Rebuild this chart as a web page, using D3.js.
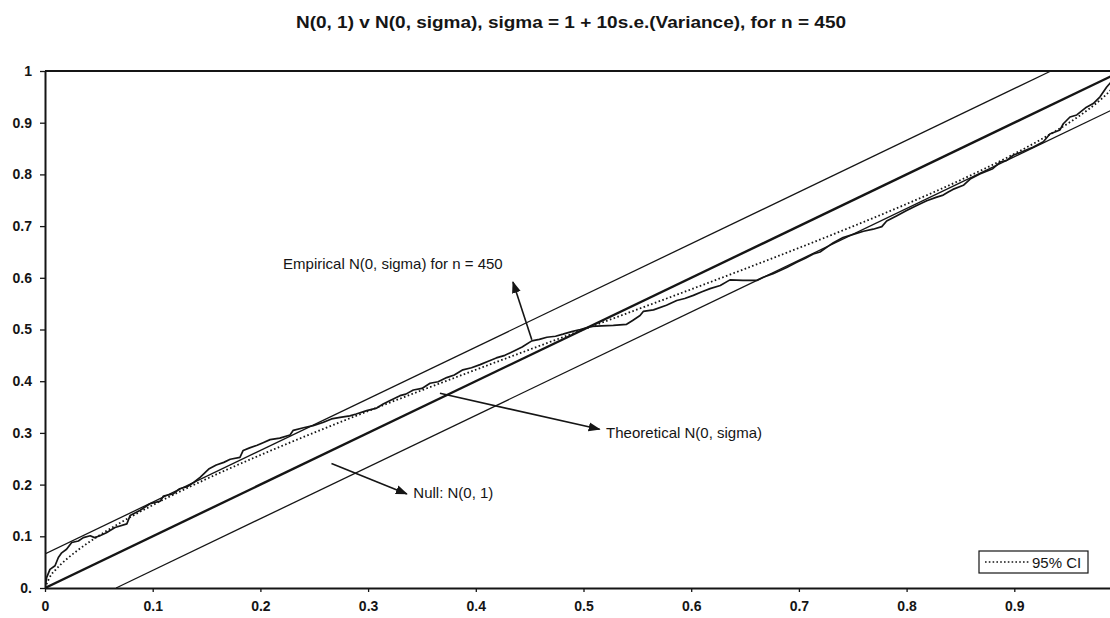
<!DOCTYPE html>
<html>
<head>
<meta charset="utf-8">
<script src="https://cdn.jsdelivr.net/npm/d3@7"></script>
<style>
body { margin: 0; background: #fff; }
text { font-family: "Liberation Sans", Arial, sans-serif; fill: #151515; }
</style>
</head>
<body>
<div id="chart"></div>
<script>
var width = 1110;
var height = 618;

var titleText = "N(0, 1) v N(0, sigma), sigma = 1 + 10s.e.(Variance), for n = 450";

var xTickValues = [0, 0.1, 0.2, 0.3, 0.4, 0.5, 0.6, 0.7, 0.8, 0.9];
var xTickLabels = ["0", "0.1", "0.2", "0.3", "0.4", "0.5", "0.6", "0.7", "0.8", "0.9"];
var yTickValues = [0, 0.1, 0.2, 0.3, 0.4, 0.5, 0.6, 0.7, 0.8, 0.9, 1];
var yTickLabels = ["0.", "0.1", "0.2", "0.3", "0.4", "0.5", "0.6", "0.7", "0.8", "0.9", "1"];

// null N(0,1) and the 95% band round it
var nullX = [0, 1];
var nullY = [0, 1];
var upperX = [0, 0.934];
var upperY = [0.066, 1];
var lowerX = [0.066, 1];
var lowerY = [0, 0.934];

// theoretical N(0, sigma)
var theoX = [0, 0.005, 0.01, 0.02, 0.03, 0.05, 0.075, 0.1, 0.15, 0.2, 0.25, 0.3, 0.35, 0.4, 0.45, 0.5,
  0.55, 0.6, 0.65, 0.7, 0.75, 0.8, 0.85, 0.9, 0.925, 0.95, 0.97, 0.98, 0.99, 0.995, 1];
var theoY = [0, 0.023, 0.0357, 0.0557, 0.0724, 0.1012, 0.1322, 0.1603, 0.211, 0.2572, 0.3006, 0.3422, 0.3826, 0.4222, 0.4612, 0.5,
  0.5388, 0.5778, 0.6174, 0.6578, 0.6994, 0.7428, 0.789, 0.8397, 0.8678, 0.8988, 0.9276, 0.9443, 0.9643, 0.977, 1];

// empirical n = 450
var empX = [0, 0.0015, 0.0046, 0.0093, 0.0124, 0.0155, 0.02, 0.0248, 0.031, 0.0356, 0.042, 0.046, 0.051, 0.057, 0.065,
  0.076, 0.079, 0.088, 0.0975, 0.107, 0.11, 0.119, 0.125, 0.132, 0.138, 0.144, 0.152, 0.159, 0.166, 0.172,
  0.181, 0.184, 0.19, 0.197, 0.203, 0.209, 0.218, 0.2275, 0.2305, 0.24, 0.249, 0.258, 0.266, 0.274, 0.283,
  0.289, 0.2987, 0.308, 0.314, 0.32, 0.3296, 0.335, 0.342, 0.35, 0.3575, 0.365, 0.373, 0.38, 0.388, 0.396,
  0.404, 0.411, 0.419, 0.427, 0.435, 0.443, 0.452, 0.459, 0.466, 0.474, 0.481, 0.489, 0.497, 0.5076, 0.517,
  0.5277, 0.54, 0.546, 0.5525, 0.5555, 0.565, 0.577, 0.5866, 0.594, 0.602, 0.61, 0.6175, 0.627, 0.636, 0.648,
  0.661, 0.667, 0.676, 0.6887, 0.698, 0.706, 0.7134, 0.7196, 0.732, 0.741, 0.7505, 0.76, 0.769, 0.777, 0.7815,
  0.791, 0.8, 0.8094, 0.8187, 0.828, 0.834, 0.8387, 0.843, 0.8527, 0.859, 0.868, 0.88, 0.887, 0.893, 0.899,
  0.905, 0.9177, 0.927, 0.933, 0.9424, 0.9455, 0.9517, 0.958, 0.967, 0.9733, 0.9796, 0.9858, 0.99];
var empY = [0, 0.02, 0.036, 0.043, 0.059, 0.068, 0.075, 0.088, 0.091, 0.0975, 0.101, 0.0975, 0.101, 0.107, 0.117,
  0.124, 0.14, 0.15, 0.163, 0.168, 0.178, 0.182, 0.192, 0.196, 0.204, 0.214, 0.23, 0.238, 0.243, 0.249,
  0.2525, 0.266, 0.271, 0.276, 0.2816, 0.287, 0.29, 0.296, 0.305, 0.31, 0.314, 0.32, 0.327, 0.33, 0.333,
  0.3366, 0.343, 0.348, 0.356, 0.362, 0.372, 0.375, 0.383, 0.386, 0.396, 0.399, 0.407, 0.412, 0.422, 0.426,
  0.432, 0.438, 0.445, 0.45, 0.458, 0.466, 0.478, 0.481, 0.485, 0.487, 0.491, 0.496, 0.5, 0.506, 0.507,
  0.508, 0.51, 0.518, 0.527, 0.535, 0.538, 0.547, 0.556, 0.56, 0.566, 0.573, 0.579, 0.585, 0.596, 0.595,
  0.595, 0.601, 0.608, 0.62, 0.63, 0.638, 0.646, 0.65, 0.668, 0.678, 0.684, 0.69, 0.694, 0.699, 0.71,
  0.72, 0.73, 0.74, 0.749, 0.756, 0.76, 0.766, 0.771, 0.779, 0.791, 0.801, 0.811, 0.824, 0.827, 0.837,
  0.842, 0.853, 0.863, 0.878, 0.886, 0.898, 0.911, 0.915, 0.93, 0.937, 0.95, 0.969, 0.979];

var svg = d3.select("#chart").append("svg").attr("width", width).attr("height", height);

var x = d3.scaleLinear().domain([0, 1]).range([45, 1122]);
var y = d3.scaleLinear().domain([0, 1]).range([588, 71]);

var ink = "#151515";

svg.append("defs").append("clipPath").attr("id", "plotclip")
  .append("rect").attr("x", 45).attr("y", 70).attr("width", width - 45).attr("height", 519);

var arrow = svg.select("defs").append("marker")
  .attr("id", "head")
  .attr("markerUnits", "userSpaceOnUse")
  .attr("viewBox", "0 -5 12 10")
  .attr("refX", 11)
  .attr("refY", 0)
  .attr("markerWidth", 12)
  .attr("markerHeight", 10)
  .attr("orient", "auto");
arrow.append("path").attr("d", "M0,-4.5L12,0L0,4.5Z").attr("fill", ink);

svg.append("text")
  .attr("x", 571)
  .attr("y", 28)
  .attr("text-anchor", "middle")
  .attr("font-size", 17)
  .attr("font-weight", "bold")
  .attr("textLength", 550)
  .attr("lengthAdjust", "spacingAndGlyphs")
  .text(titleText);

function pairs(xs, ys) {
  return xs.map(function(d, i) { return [d, ys[i]]; });
}

var line = d3.line().x(function(d) { return x(d[0]); }).y(function(d) { return y(d[1]); });
var smooth = d3.line().curve(d3.curveMonotoneX).x(function(d) { return x(d[0]); }).y(function(d) { return y(d[1]); });

var plot = svg.append("g").attr("clip-path", "url(#plotclip)");

plot.append("path").datum(pairs(upperX, upperY)).attr("d", line)
  .attr("fill", "none").attr("stroke", ink).attr("stroke-width", 1.3);
plot.append("path").datum(pairs(lowerX, lowerY)).attr("d", line)
  .attr("fill", "none").attr("stroke", ink).attr("stroke-width", 1.3);
plot.append("path").datum(pairs(nullX, nullY)).attr("d", line)
  .attr("fill", "none").attr("stroke", ink).attr("stroke-width", 2.4);
plot.append("path").datum(pairs(theoX, theoY)).attr("d", smooth)
  .attr("fill", "none").attr("stroke", ink).attr("stroke-width", 1.8).attr("stroke-dasharray", "1.6 2.4");
plot.append("path").datum(pairs(empX, empY)).attr("d", line)
  .attr("fill", "none").attr("stroke", ink).attr("stroke-width", 1.7).attr("stroke-linejoin", "round");

// axes
var yAxis = d3.axisLeft(y).tickValues(yTickValues)
  .tickFormat(function(d, i) { return yTickLabels[i]; })
  .tickSize(5).tickSizeOuter(0).tickPadding(8);
var xAxis = d3.axisBottom(x).tickValues(xTickValues)
  .tickFormat(function(d, i) { return xTickLabels[i]; })
  .tickSize(4).tickSizeOuter(0).tickPadding(9);

var gy = svg.append("g").attr("transform", "translate(45,0)").call(yAxis);
var gx = svg.append("g").attr("transform", "translate(0,588)").call(xAxis);

[gx, gy].forEach(function(g) {
  g.select(".domain").attr("stroke", ink).attr("stroke-width", 2);
  g.selectAll(".tick line").attr("stroke", ink).attr("stroke-width", 1.3);
  g.selectAll(".tick text").attr("font-size", 14).attr("font-weight", "bold")
    .attr("fill", ink).style("font-family", "'Liberation Sans', Arial, sans-serif");
});

svg.append("line")
  .attr("x1", 45).attr("x2", width).attr("y1", y(1)).attr("y2", y(1))
  .attr("stroke", ink).attr("stroke-width", 2);

// annotations
function note(tail, head) {
  svg.append("line")
    .attr("x1", x(tail[0])).attr("y1", y(tail[1]))
    .attr("x2", x(head[0])).attr("y2", y(head[1]))
    .attr("stroke", ink).attr("stroke-width", 1.6)
    .attr("marker-end", "url(#head)");
}

note([0.452, 0.48], [0.4345, 0.592]);
svg.append("text").attr("x", x(0.425)).attr("y", y(0.617))
  .attr("text-anchor", "end").attr("font-size", 15)
  .text("Empirical N(0, sigma) for n = 450");

note([0.3667, 0.3766], [0.515, 0.307]);
svg.append("text").attr("x", x(0.521)).attr("y", y(0.29))
  .attr("font-size", 15)
  .text("Theoretical N(0, sigma)");

note([0.266, 0.241], [0.336, 0.182]);
svg.append("text").attr("x", x(0.342)).attr("y", y(0.174))
  .attr("font-size", 15)
  .text("Null: N(0, 1)");

// legend
var legend = svg.append("g").attr("transform", "translate(979,551)");
legend.append("rect").attr("width", 109).attr("height", 22)
  .attr("fill", "#fff").attr("stroke", ink).attr("stroke-width", 1.2);
legend.append("line").attr("x1", 6).attr("x2", 50).attr("y1", 11).attr("y2", 11)
  .attr("stroke", ink).attr("stroke-width", 1.4).attr("stroke-dasharray", "1.6 2.2");
legend.append("text").attr("x", 53).attr("y", 16.5).attr("font-size", 15).text("95% CI");
</script>
</body>
</html>
